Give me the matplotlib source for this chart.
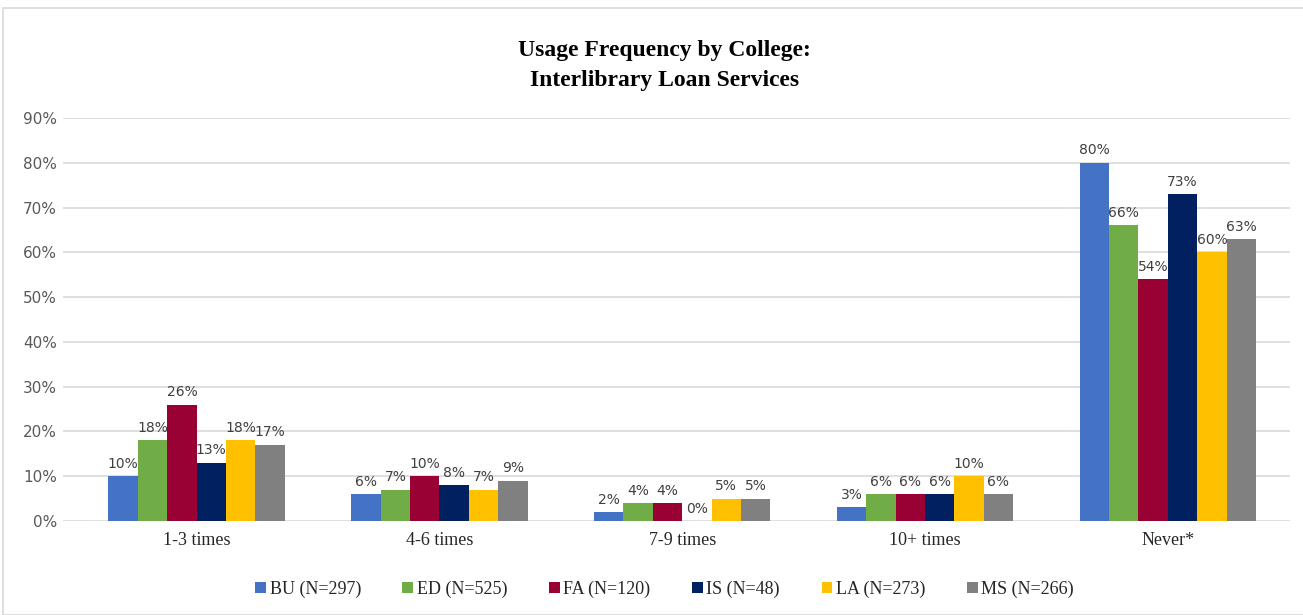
import numpy as np
import matplotlib.pyplot as plt
from matplotlib.patches import Rectangle

categories = ["1-3 times", "4-6 times", "7-9 times", "10+ times", "Never*"]
colleges = ["BU (N=297)", "ED (N=525)", "FA (N=120)", "IS (N=48)", "LA (N=273)", "MS (N=266)"]
bu = [10, 6, 2, 3, 80]
ed = [18, 7, 4, 6, 66]
fa = [26, 10, 4, 6, 54]
is_ = [13, 8, 0, 6, 73]
la = [18, 7, 5, 10, 60]
ms = [17, 9, 5, 6, 63]
series = [bu, ed, fa, is_, la, ms]
colors = ["#4472C4", "#70AD47", "#990033", "#002060", "#FFC000", "#808080"]

fig = plt.figure(figsize=(13.03, 6.15), dpi=100)
fig.patches.append(Rectangle((3 / 1303, 0), 1, 1 - 8 / 615, transform=fig.transFigure,
                             fill=False, edgecolor="#D9D9D9", linewidth=1.2))
ax = fig.add_axes([0.048, 0.153, 0.942, 0.655])

x = np.arange(len(categories))
w = 0.121
for i, (vals, c, lab) in enumerate(zip(series, colors, colleges)):
    pos = x + (i - 2.5) * w
    ax.bar(pos, vals, width=w, color=c, label=lab, zorder=2)
    for p, v in zip(pos, vals):
        ax.text(p, v + 1.2, f"{v}%", ha="center", va="bottom",
                fontsize=10, color="#404040", family="DejaVu Sans")

ax.set_ylim(0, 90)
ax.set_xlim(-0.552, 4.503)
ax.set_yticks(range(0, 91, 10))
ax.set_yticklabels([f"{t}%" for t in range(0, 91, 10)], fontsize=11, color="#595959",
                   family="DejaVu Sans")
ax.set_xticks(x)
ax.set_xticklabels(categories, fontsize=13, family="Liberation Serif", color="#262626")
ax.tick_params(length=0)
ax.tick_params(axis="x", pad=8)
ax.tick_params(axis="y", pad=4)
ax.grid(axis="y", color="#D9D9D9", linewidth=1.2, zorder=0)
ax.set_axisbelow(True)
for s in ax.spines.values():
    s.set_visible(False)

fig.text(0.51, 0.894, "Usage Frequency by College:\nInterlibrary Loan Services", ha="center",
         va="center", fontsize=17, fontweight="bold", family="Liberation Serif",
         linespacing=1.55)

leg = fig.legend(loc="center", bbox_to_anchor=(0.51, 0.042), ncol=6, frameon=False,
                 prop={"family": "Liberation Serif", "size": 13}, handlelength=0.6,
                 handleheight=0.6, handletextpad=0.2, columnspacing=2.3)
for t in leg.get_texts():
    t.set_color("#262626")

fig.savefig("out.png", dpi=100)
